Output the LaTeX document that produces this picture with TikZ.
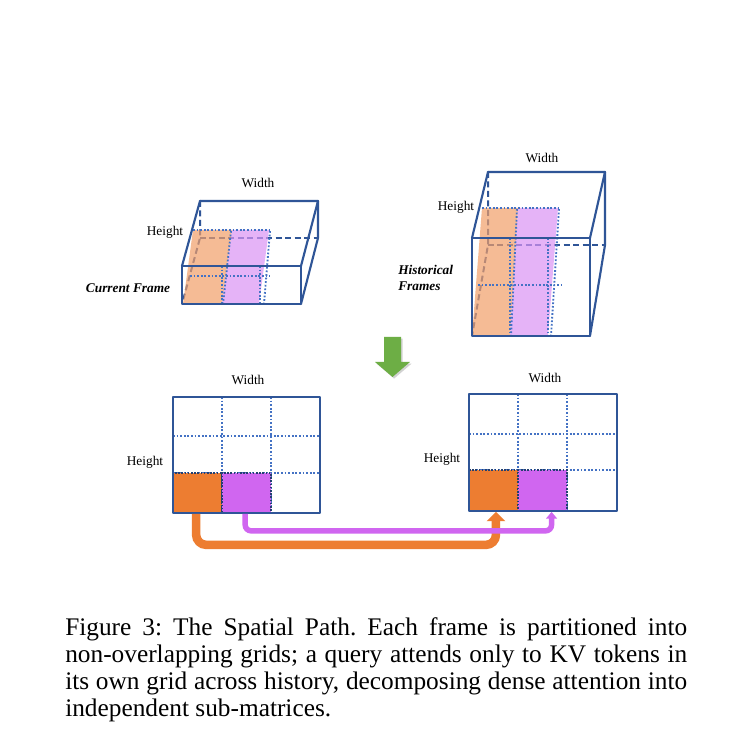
\documentclass[tikz,border=0pt]{standalone}
\usepackage{fontspec}
\setmainfont{Liberation Serif}
\usetikzlibrary{arrows.meta,shadows}
\definecolor{dblue}{HTML}{2F5597}
\definecolor{mblue}{HTML}{4472C4}
\definecolor{orng}{HTML}{ED7D31}
\definecolor{purp}{HTML}{D066F0}
\definecolor{lorng}{HTML}{F19F69}
\definecolor{lpurp}{HTML}{DB94F5}
\definecolor{grn}{HTML}{6DAE45}
\begin{document}
\begin{tikzpicture}[x=0.75pt,y=-0.75pt,
  edgeline/.style={draw=dblue, line width=1.6pt, line join=round, line cap=round},
  hidline/.style={draw=dblue, line width=1.5pt, dash pattern=on 4.5pt off 2.6pt},
  dotline/.style={draw=mblue, line width=1.4pt, dash pattern=on 1.3pt off 1.4pt},
  slabfill/.style={fill opacity=0.7, draw=none},
  celldot/.style={draw=dblue!75!black, line width=1.3pt, dash pattern=on 1.2pt off 1.2pt, inner sep=0pt, minimum width=36.75pt},
  lbl/.style={font=\fontsize{10}{12}\selectfont, inner sep=0pt},
  blbl/.style={font=\fontsize{10}{12}\selectfont\bfseries\itshape, inner sep=0pt},
  oarrow/.style={draw=orng, line width=6.4pt, rounded corners=7.5pt, -{Triangle[width=13.5pt,length=7pt]}},
  parrow/.style={draw=purp, line width=4.1pt, rounded corners=4.5pt, -{Triangle[width=8pt,length=5pt]}}
]
\fill[white] (0,0) rectangle (751,741);
\useasboundingbox (0,0) rectangle (751,741);

% ---------- Current frame ----------
\draw[hidline] (200,201) -- (200,238) -- (182,304);
\draw[hidline] (200,238) -- (318,238);
\fill[lorng, slabfill] (193,230) -- (232,230) -- (222,304) -- (183,304) -- cycle;
\fill[lpurp, slabfill] (232,230) -- (269,230) -- (259,304) -- (222,304) -- cycle;
\draw[dotline] (193,230) -- (270,230);
\draw[dotline] (190,276) -- (270,276);
\draw[dotline] (231,231) -- (223,304);
\draw[dotline] (222,266) -- (222,304);
\draw[dotline] (270,231) -- (264,304);
\draw[dotline] (260,266) -- (260,304);
\draw[edgeline] (200,201) -- (318,201) -- (301,266);
\draw[edgeline] (200,201) -- (182,266);
\draw[edgeline] (318,201) -- (318,238) -- (301,304);
\draw[edgeline] (182,266) rectangle (301,304);
\node[lbl] (cw) at (258,183) {Width};
\node[lbl] (ch) at (165,232) {Height};
\node[blbl] (cf) at (128,288) {Current Frame};

% ---------- Historical frames ----------
\draw[hidline] (488,172) -- (488,245) -- (472,336);
\draw[hidline] (488,245) -- (605,245);
\fill[lorng, slabfill] (482,208) -- (518,208) -- (510,336) -- (472,336) -- cycle;
\fill[lpurp, slabfill] (518,208) -- (558,208) -- (548,336) -- (510,336) -- cycle;
\draw[dotline] (482,208) -- (560,208);
\draw[dotline] (478,285) -- (562,285);
\draw[dotline] (517,209) -- (511,336);
\draw[dotline] (510,238) -- (510,336);
\draw[dotline] (559,209) -- (551,336);
\draw[dotline] (548,238) -- (548,336);
\draw[edgeline] (488,172) -- (605,172) -- (590,238);
\draw[edgeline] (488,172) -- (472,238);
\draw[edgeline] (605,172) -- (605,245) -- (590,336);
\draw[edgeline] (472,238) rectangle (590,336);
\node[lbl] (hw) at (542,158) {Width};
\node[lbl] (hh) at (456,207) {Height};
\node[blbl, align=left, anchor=west] (hf) at (398,278) {Historical\\Frames};

% ---------- Green arrow ----------
\fill[grn, drop shadow={shadow xshift=1.2pt, shadow yshift=-1.2pt, opacity=0.35}]
  (384,337) -- (401,337) -- (401,362) -- (410,362) -- (392.5,377) -- (375,362) -- (384,362) -- cycle;

% ---------- Left grid ----------
\draw[dotline] (221.7,397) -- (221.7,473);
\draw[dotline] (270.7,397) -- (270.7,513);
\draw[dotline] (173,436) -- (320,436);
\draw[dotline] (173,472.7) -- (320,472.7);
\node[celldot, fill=orng, minimum height=30pt] (lO) at (197.5,493) {};
\node[celldot, fill=purp, minimum height=30pt] (lP) at (246.5,493) {};
\draw[edgeline] (173.3,397.3) rectangle (320,512.7);
\node[lbl] (lw) at (248,380) {Width};
\node[lbl] (lh) at (145,462) {Height};

% ---------- Right grid ----------
\draw[dotline] (518.3,394) -- (518.3,470);
\draw[dotline] (566.7,394) -- (566.7,511);
\draw[dotline] (469,434) -- (617,434);
\draw[dotline] (469,470) -- (617,470);
\node[celldot, fill=orng, minimum height=30.75pt] (rO) at (493.7,490.5) {};
\node[celldot, fill=purp, minimum height=30.75pt] (rP) at (542.5,490.5) {};
\draw[edgeline] (469.3,394.3) rectangle (616.7,510.7);
\node[lbl] (rw) at (545,378) {Width};
\node[lbl] (rh) at (442,459) {Height};

% ---------- Connectors ----------
\draw[oarrow] ([xshift=-1pt]lO.south) -- ++(0,31) -| ([xshift=1.7pt]rO.south);
\draw[parrow] ([xshift=-1pt]lP.south) -- ++(0,17) -| ([xshift=6.8pt]rP.south);

% ---------- Caption ----------
\node[anchor=base west, inner sep=0pt, text width=466.5pt, align=justify,
      font=\fontsize{19}{20.25}\selectfont\frenchspacing] (cap) at (65,636)
  {Figure 3: The Spatial Path. Each frame is partitioned into\linebreak
   non-overlapping grids; a query attends only to KV tokens in\linebreak
   its own grid across history, decomposing dense attention into\linebreak
   independent sub-matrices.};
\end{tikzpicture}
\end{document}
